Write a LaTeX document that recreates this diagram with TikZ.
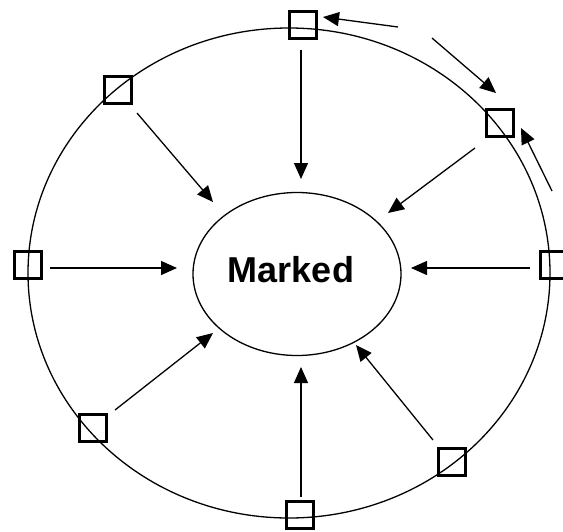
\documentclass[tikz,border=0pt]{standalone}
\usepackage{fontspec}
\setmainfont{Liberation Sans}
\usetikzlibrary{arrows.meta,shapes.geometric}
\begin{document}
\begin{tikzpicture}[x=1pt,y=-1pt,
  sq/.style={draw,line width=3.4pt,minimum size=26.6pt,inner sep=0pt,fill=none},
  thin/.style={line width=1.3pt},
  arr/.style={thin,-{Triangle[length=16pt,width=14pt]}},
  ]
\useasboundingbox (0,0) rectangle (563,531);
\clip (0,0) rectangle (563,531);
% outer ring
\draw[thin] (289,273) ellipse [x radius=261, y radius=245];
% centre
\node[draw,thin,ellipse,minimum width=208pt,minimum height=163pt,inner sep=0pt] (m) at (297,274) {};
\node[font=\fontsize{36}{40}\selectfont\bfseries,inner sep=0pt] (mt) at (291,270) {Marked};
% squares
\node[sq] (t)  at (303,25) {};
\node[sq] (ur) at (500,123) {};
\node[sq] (r)  at (554,265) {};
\node[sq] (lr) at (452,462) {};
\node[sq] (b)  at (300,515) {};
\node[sq] (ll) at (93,428) {};
\node[sq] (l)  at (28,265) {};
\node[sq] (ul) at (118,90) {};
% arrow end points
\coordinate (t1) at (301,50);   \coordinate (t2) at (301,179);
\coordinate (ul1) at (137,113); \coordinate (ul2) at (213,202);
\coordinate (ur1) at (475,148); \coordinate (ur2) at (388,213);
\coordinate (l1) at (50,268);   \coordinate (l2) at (177,268);
\coordinate (r1) at (530,268);  \coordinate (r2) at (411,268);
\coordinate (ll1) at (115,410); \coordinate (ll2) at (213,333);
\coordinate (lr1) at (433,440); \coordinate (lr2) at (356,345);
\coordinate (b1) at (301,497);  \coordinate (b2) at (301,367);
\foreach \s in {t,ul,ur,l,r,ll,lr,b}{\draw[arr] (\s1) -- (\s2);}
% outer arrows
\coordinate (o1) at (398,27);  \coordinate (o1e) at (323,17);
\coordinate (o2) at (432,38);  \coordinate (o2e) at (496,93);
\coordinate (o3) at (552,191); \coordinate (o3e) at (521,128);
\draw[arr] (o1) -- (o1e);
\draw[arr] (o2) -- (o2e);
\draw[arr] (o3) -- (o3e);
\end{tikzpicture}
\end{document}
